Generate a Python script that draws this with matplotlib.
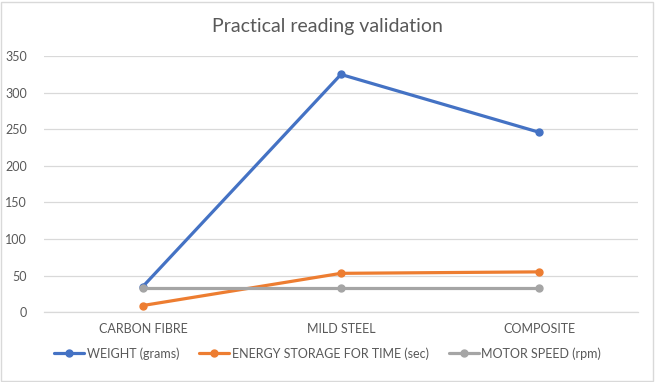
import matplotlib
matplotlib.use("Agg")
import matplotlib.pyplot as plt
from matplotlib.patches import Rectangle

materials = ["CARBON FIBRE", "MILD STEEL", "COMPOSITE"]
weight = [35, 325, 246]
energy = [9, 53, 55]
motor_speed = [33, 33, 33]

series = [
    ("WEIGHT (grams)", weight, "#4472C4"),
    ("ENERGY STORAGE FOR TIME (sec)", energy, "#ED7D31"),
    ("MOTOR SPEED (rpm)", motor_speed, "#A5A5A5"),
]

plt.rcParams["font.family"] = ["Lato", "DejaVu Sans"]
text_color = "#595959"

fig = plt.figure(figsize=(6.55, 3.82), dpi=100)
ax = fig.add_axes([0.067, 0.183, 0.907, 0.670])

x = list(range(len(materials)))
for label, values, color in series:
    ax.plot(x, values, color=color, linewidth=2.3, marker="o", markersize=5,
            label=label, solid_capstyle="round")

ax.set_xlim(-0.5, len(materials) - 0.5)
ax.set_ylim(0, 350)
ax.set_yticks(range(0, 351, 50))
ax.set_xticks(x)
ax.set_xticklabels(materials)
ax.tick_params(axis="both", length=0, colors=text_color, labelsize=9)
ax.tick_params(axis="x", pad=8)
ax.tick_params(axis="y", pad=12)
ax.grid(axis="y", color="#D9D9D9", linewidth=0.9)
ax.set_axisbelow(True)
for side in ["top", "right", "left"]:
    ax.spines[side].set_visible(False)
ax.spines["bottom"].set_color("#D9D9D9")
ax.spines["bottom"].set_linewidth(0.9)

fig.text(0.5, 0.93, "Practical reading validation", ha="center", va="center",
         fontsize=14, color=text_color)

fig.legend(loc="center", bbox_to_anchor=(0.5, 0.075), ncol=3, frameon=False,
           fontsize=9, labelcolor=text_color, handlelength=2.4,
           columnspacing=1.6, handletextpad=0.2)

fig.patches.append(Rectangle((0.002, 0.003), 0.995, 0.993, transform=fig.transFigure,
                             fill=False, edgecolor="#D9D9D9", linewidth=1.0))

fig.savefig("out.png", dpi=100)
